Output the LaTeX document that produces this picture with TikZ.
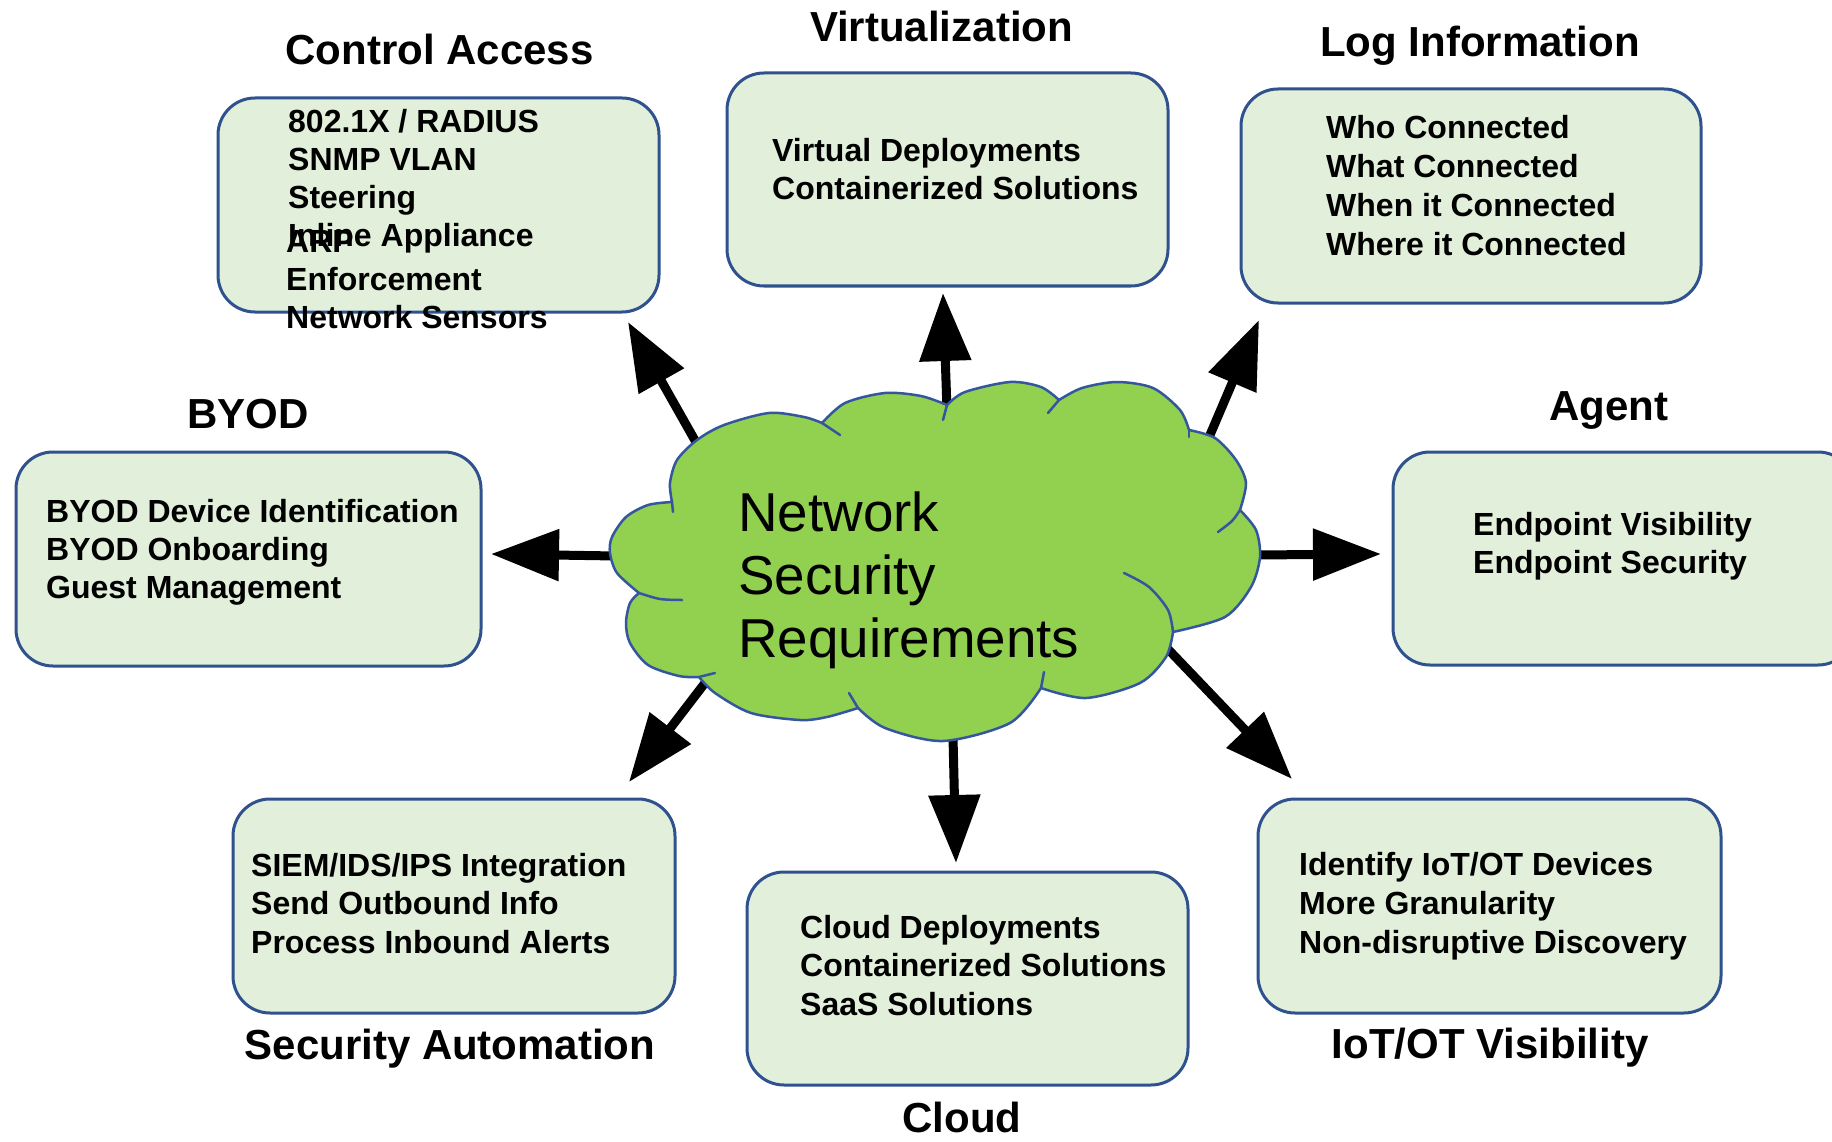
\documentclass[tikz,border=0pt]{standalone}
\usepackage{fontspec}
\setmainfont{Liberation Sans}
\usetikzlibrary{arrows.meta}
\definecolor{boxfill}{RGB}{226,239,218}
\definecolor{boxline}{RGB}{47,82,143}
\definecolor{cloudfill}{RGB}{146,208,80}
\definecolor{cloudline}{RGB}{52,86,158}
\newcommand\blocklines[5]{\foreach \t [count=\i from 0] in {#5} {\node[itemtext] (#1-\i) at (#2,{#3+#4*\i}) {\t};}}
\begin{document}
\begin{tikzpicture}[x=1pt,y=-1pt,
  box/.style={draw=boxline, fill=boxfill, line width=3pt, rounded corners=37pt, inner sep=0pt, outer sep=0pt},
  itemtext/.style={anchor=base west, inner sep=0pt, font=\fontsize{32}{38}\selectfont\bfseries},
  title/.style={anchor=base, inner sep=0pt, font=\fontsize{42}{50}\selectfont\bfseries},
  cloudtext/.style={anchor=base west, inner sep=0pt, font=\fontsize{54.8}{63}\selectfont},
  bigarrow/.style={line width=9pt, -{Triangle[length=68pt,width=50pt]}},
  crease/.style={draw=cloudline, line width=2.5pt, line cap=round}
]
\useasboundingbox (0,0) rectangle (1832,1142);
\fill[white] (0,0) rectangle (1832,1142);
\clip (0,0) rectangle (1832,1142);

% boxes
\node[box, minimum width=441pt, minimum height=214pt] (ca) at (438.5,205) {};
\node[box, minimum width=441pt, minimum height=213pt] (virt) at (947.5,179.5) {};
\node[box, minimum width=460pt, minimum height=214pt] (log) at (1471,196) {};
\node[box, minimum width=465pt, minimum height=214pt] (byod) at (248.5,559) {};
\node[box, minimum width=462pt, minimum height=213pt] (agent) at (1624,558.5) {};
\node[box, minimum width=442pt, minimum height=214pt] (sec) at (454,906) {};
\node[box, minimum width=441pt, minimum height=213pt] (cld) at (967.5,978.5) {};
\node[box, minimum width=463pt, minimum height=214pt] (iot) at (1489.5,906) {};

% arrow coordinates
\coordinate (s1) at (697,444); \coordinate (t1) at (628,322);
\coordinate (s2) at (947,410); \coordinate (t2) at (943,293);
\coordinate (s3) at (1207,442); \coordinate (t3) at (1259,320);
\coordinate (s4) at (616,556); \coordinate (t4) at (491,554);
\coordinate (s5) at (1255,555); \coordinate (t5) at (1381,554);
\coordinate (s6) at (708,679); \coordinate (t6) at (629,782);
\coordinate (s7) at (953,737); \coordinate (t7) at (956,863);
\coordinate (s8) at (1165,646); \coordinate (t8) at (1292,779);
\foreach \k in {1,...,8} {\draw[bigarrow] (s\k) -- (t\k);}

% cloud
\filldraw[fill=cloudfill, draw=cloudline, line width=2.5pt, line join=round]
  plot[smooth] coordinates {(672,502) (670,483) (677,460) (697,440) (724,425) (769,413) (804,417) (822,423)}
  -- plot[smooth] coordinates {(822,423) (845,403) (885,393) (921,396) (947,405)}
  -- plot[smooth] coordinates {(947,405) (965,392) (1010,382) (1041,387) (1059,400)}
  -- plot[smooth] coordinates {(1059,400) (1082,388) (1117,382) (1153,388) (1180,410) (1189,430)}
  -- plot[smooth] coordinates {(1189,430) (1215,438) (1236,460) (1246,483) (1240,510)}
  -- plot[smooth] coordinates {(1240,510) (1256,530) (1260,557) (1251,587) (1225,617) (1173,632)}
  -- plot[smooth] coordinates {(1173,632) (1166,657) (1140,683) (1086,698) (1041,688)}
  -- plot[smooth] coordinates {(1041,688) (1010,723) (943,741) (885,728) (858,708)}
  -- plot[smooth] coordinates {(858,708) (827,717) (800,720) (751,713) (715,693) (699,677)}
  -- plot[smooth] coordinates {(699,677) (679,676) (648,665) (630,643) (626,623) (630,603) (639,593)}
  -- plot[smooth] coordinates {(639,593) (617,573) (610,553) (612,537) (626,517) (648,505) (672,502)}
  -- cycle;
% inner creases
\draw[crease] (672,502) -- (673,512);
\draw[crease] plot[smooth] coordinates {(639,593) (660,599) (682,600)};
\draw[crease] plot[smooth] coordinates {(699,677) (715,673)};
\draw[crease] plot[smooth] coordinates {(849,693) (858,708)};
\draw[crease] plot[smooth] coordinates {(1041,688) (1044,672)};
\draw[crease] plot[smooth] coordinates {(1173,632) (1168,610) (1149,587) (1124,573)};
\draw[crease] plot[smooth] coordinates {(1240,510) (1232,521) (1218,532)};
\draw[crease] plot[smooth] coordinates {(1189,430) (1189,437)};
\draw[crease] plot[smooth] coordinates {(1059,400) (1048,413)};
\draw[crease] plot[smooth] coordinates {(947,405) (943,420)};
\draw[crease] plot[smooth] coordinates {(822,423) (840,435)};

\node[cloudtext] (nsr1) at (738,531) {Network};
\node[cloudtext] (nsr2) at (738,594) {Security};
\node[cloudtext] (nsr3) at (738,657) {Requirements};

% titles
\node[title] (ttl-ca) at (439.5,65) {Control Access};
\node[title] (ttl-virt) at (941.5,42) {Virtualization};
\node[title] (ttl-log) at (1480,57) {Log Information};
\node[title] (ttl-byod) at (248,428) {BYOD};
\node[title] (ttl-agent) at (1609,420) {Agent};
\node[title] (ttl-sec) at (450,1059) {Security Automation};
\node[title] (ttl-cld) at (962,1132) {Cloud};
\node[title] (ttl-iot) at (1490,1058) {IoT/OT Visibility};

% box texts
\blocklines{caA}{288}{133}{38}{{802.1X / RADIUS},{SNMP VLAN},{Steering},{Inline Appliance}}
\blocklines{caB}{286}{253}{37.5}{{ARP},{Enforcement},{Network Sensors}}
\blocklines{virtT}{772}{162}{38}{{Virtual Deployments},{Containerized Solutions}}
\blocklines{logT}{1326}{139}{38.7}{{Who Connected},{What Connected},{When it Connected},{Where it Connected}}
\blocklines{byodT}{46}{522}{38}{{BYOD Device Identification},{BYOD Onboarding},{Guest Management}}
\blocklines{agentT}{1473}{535}{38}{{Endpoint Visibility},{Endpoint Security}}
\blocklines{secT}{251}{876}{38.5}{{SIEM/IDS/IPS Integration},{Send Outbound Info},{Process Inbound Alerts}}
\blocklines{cldT}{800}{938}{38.5}{{Cloud Deployments},{Containerized Solutions},{SaaS Solutions}}
\blocklines{iotT}{1299}{875}{39}{{Identify IoT/OT Devices},{More Granularity},{Non-disruptive Discovery}}
\end{tikzpicture}
\end{document}
